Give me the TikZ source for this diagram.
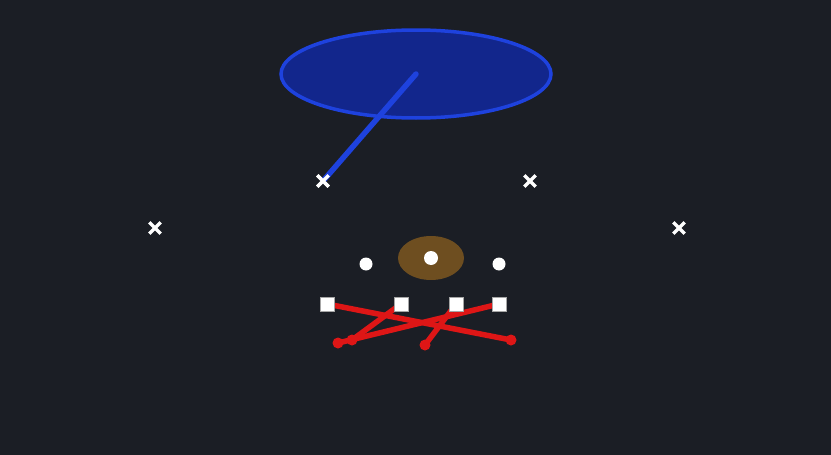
\documentclass[tikz,border=0pt]{standalone}
\usetikzlibrary{shapes.geometric,shapes.misc}
\definecolor{bgdark}{RGB}{27,30,37}
\definecolor{zonefill}{RGB}{18,38,140}
\definecolor{zoneline}{RGB}{30,66,222}
\definecolor{routered}{RGB}{222,22,22}
\definecolor{ballbrown}{RGB}{110,78,32}
\begin{document}
\begin{tikzpicture}
[x=1pt,y=-1pt,
  xdecorate/.style={shape=cross out,draw=white,line width=3.4pt,minimum size=8pt,inner sep=0pt},%
  odecorate/.style={shape=circle,fill=white,minimum size=13pt,inner sep=0pt},%
  sqdecorate/.style={shape=rectangle,fill=white,draw=gray!70,line width=0.8pt,minimum size=14pt,inner sep=0pt},%
  dotdecorate/.style={shape=circle,fill=routered,minimum size=11pt,inner sep=0pt},%
  routedecorate/.style={draw=routered,line width=5.5pt,line cap=round},%
  zonearrow/.style={draw=zoneline,line width=5.5pt,line cap=round}]
\fill[bgdark] (0,0) rectangle (831,455);
% zone and ball
\node (zone) at (416,74) [shape=ellipse,fill=zonefill,draw=zoneline,line width=3.5pt,minimum width=270pt,minimum height=88pt,inner sep=0pt] {};
\node (ball) at (431,258) [shape=ellipse,fill=ballbrown,minimum width=66pt,minimum height=44pt,inner sep=0pt] {};
% defense
\node (x1) at (155,228) [xdecorate] {};
\node (x2) at (323,181) [xdecorate] {};
\node (x3) at (530,181) [xdecorate] {};
\node (x4) at (679,228) [xdecorate] {};
% backs
\node (o1) at (366,264) [odecorate] {};
\node (o2) at (431,258) [odecorate,minimum size=14pt] {};
\node (o3) at (499,264) [odecorate] {};
% line
\node (sq1) at (327,304) [sqdecorate] {};
\node (sq2) at (401,304) [sqdecorate] {};
\node (sq3) at (456,304) [sqdecorate] {};
\node (sq4) at (499,304) [sqdecorate] {};
% route ends
\node (e1) at (338,343) [dotdecorate] {};
\node (e2) at (352,340) [dotdecorate] {};
\node (e3) at (425,345) [dotdecorate] {};
\node (e4) at (511,340) [dotdecorate] {};
% routes
\path
(zone.center) edge[zonearrow] (x2.center)
(sq1.center) edge[routedecorate] (e4.center)
(sq4.center) edge[routedecorate] (e1.center)
(sq2.center) edge[routedecorate] (e2.center)
(sq3.center) edge[routedecorate] (e3.center);
% marks on top
\node at (x2) [xdecorate] {};
\foreach \s in {sq1,sq2,sq3,sq4}
  \node at (\s) [sqdecorate] {};
\end{tikzpicture}
\end{document}
